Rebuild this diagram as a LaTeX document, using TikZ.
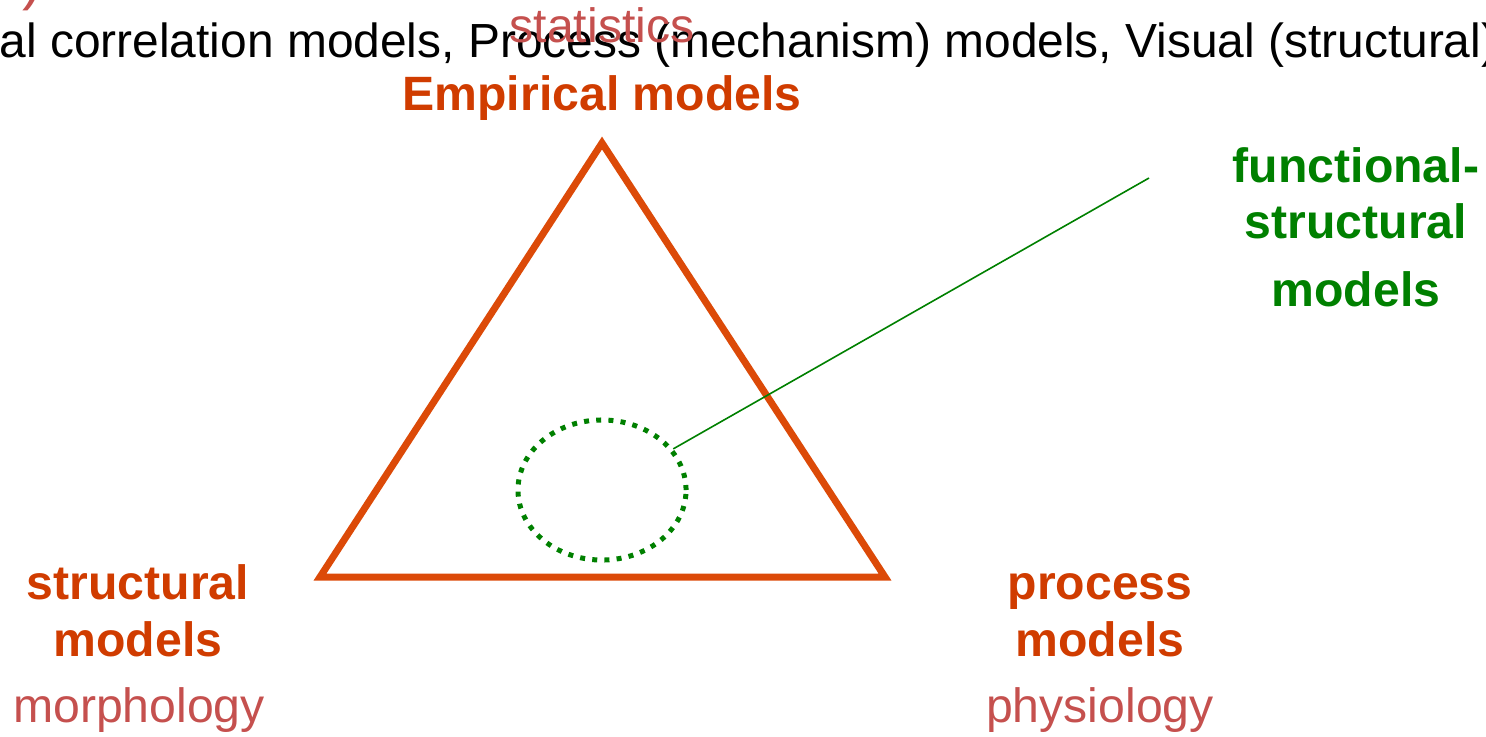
\documentclass[tikz,border=0pt]{standalone}
\usepackage{fontspec}
\setmainfont{Liberation Sans}
\usetikzlibrary{positioning,shapes.geometric}
\definecolor{ink}{HTML}{000000}
\definecolor{rust}{HTML}{D03C00}
\definecolor{flame}{HTML}{DC4A08}
\definecolor{rose}{HTML}{C5504E}
\definecolor{leaf}{HTML}{008000}
\tikzset{
  %% text
  plain/.style  = {inner sep=0pt, align=center, text=ink,
                   font=\fontsize{13.7pt}{0.56cm}\selectfont},
  sub/.style    = {plain, text=rose},
  head/.style   = {plain, text=rust,
                   font=\fontsize{13.7pt}{0.56cm}\selectfont\bfseries},
  fslbl/.style  = {head, text=leaf},
  %% shapes
  frame/.style  = {draw=flame, line width=0.07cm, line join=miter},
  ring/.style   = {ellipse, draw=leaf, line width=0.05cm,
                   dash pattern=on 0.05cm off 0.072cm, inner sep=0pt},
  link/.style   = {-, draw=leaf, line width=0.016cm},
}
\begin{document}
\begin{tikzpicture}[x=0.01cm, y=-0.01cm]
\useasboundingbox (0,0) rectangle (1486,736);
\clip (0,0) rectangle (1486,736);

%% ---- clipped header ----
\node[sub, anchor=base west, font=\fontsize{17pt}{20pt}\selectfont] (paren) at (22,-2) {)};
\node[plain, anchor=base west, font=\fontsize{13.62pt}{16pt}\selectfont] (topline) at (-1,57)
   {al correlation models, Process (mechanism) models, Visual (structural)};
\node[sub, anchor=base] (stats) at (602,42) {statistics};
\node[head, anchor=base] (emp) at (602,110) {Empirical models};

%% ---- triangle ----
\coordinate (apex) at (602,143);
\coordinate (left) at (320,577);
\coordinate (right) at (885,577);
\draw[frame] (apex) -- (left) -- (right) -- cycle;

%% ---- functional-structural region ----
\node[ring, minimum width=1.68cm, minimum height=1.40cm] (fsm) at (602,490) {};
\coordinate (tip) at (1149,178);
\draw[link] (fsm.30) -- (tip);
%% base of a multi-line node = baseline of its last line
\node[fslbl, anchor=base] (fs) at (1356,306)
   {functional-\\structural\\[0.11cm]models};

%% ---- corners ----
\node[head, anchor=base] (struct) at (138,656) {structural\\models};
\node[sub, anchor=base] (morph) at (139,722) {morphology};
\node[head, anchor=base] (proc) at (1100,656) {process\\models};
\node[sub, anchor=base] (phys) at (1100,722) {physiology};
\end{tikzpicture}
\end{document}
